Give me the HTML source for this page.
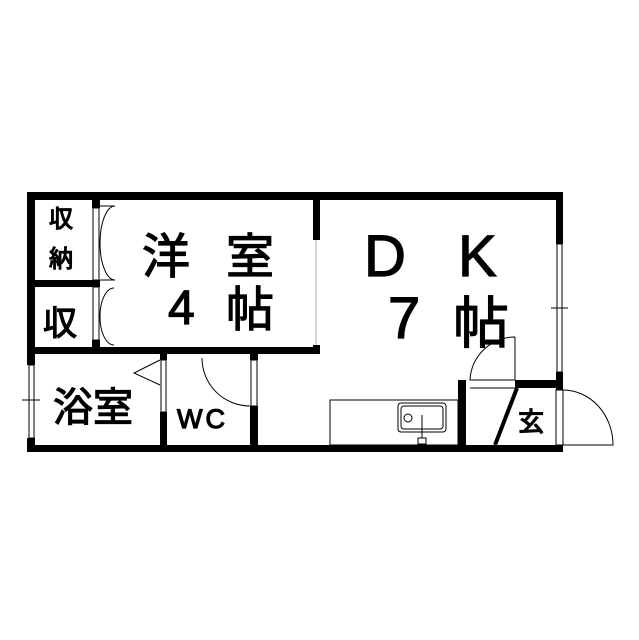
<!DOCTYPE html>
<html><head><meta charset="utf-8"><style>
html,body{margin:0;padding:0;background:#fff;width:639px;height:640px;overflow:hidden}
svg{display:block}
text{font-family:"Liberation Sans","Noto Sans CJK JP",sans-serif;fill:#000;stroke:#000;stroke-width:1.2}
</style></head><body>
<svg width="639" height="640" viewBox="0 0 639 640">
<g fill="#000">
<rect x="27" y="192" width="536" height="8"/>
<rect x="27" y="192" width="8" height="173"/>
<rect x="27" y="438" width="8" height="14"/>
<rect x="27" y="445" width="536" height="7"/>
<rect x="556" y="192" width="7" height="52"/>
<rect x="556" y="372" width="7" height="18"/>
<rect x="313" y="192" width="7" height="48"/>
<rect x="313" y="345" width="7" height="9"/>
<rect x="27" y="347" width="293" height="7"/>
<rect x="27" y="280" width="73" height="7"/>
<rect x="92" y="200" width="8" height="8"/>
<rect x="92" y="280" width="8" height="7"/>
<rect x="92" y="340" width="8" height="8"/>
<rect x="160" y="354" width="7" height="6"/>
<rect x="160" y="412" width="7" height="35"/>
<rect x="250" y="354" width="8" height="6"/>
<rect x="250" y="406" width="8" height="40"/>
<rect x="458" y="380" width="8" height="66"/>
<rect x="515" y="380" width="48" height="8"/>
</g>
<g fill="none" stroke="#000" stroke-width="1">
<rect x="93" y="208" width="6" height="72"/>
<rect x="93" y="287" width="6" height="53"/>
<path d="M100 243 A 15 37 0 0 1 115 206 M100 243 A 15 37 0 0 0 115 280"/>
<path d="M100 316 A 14 28 0 0 1 114 288 M100 316 A 14 28 0 0 0 114 345"/>
<line x1="100" y1="206" x2="115" y2="206"/><line x1="100" y1="280" x2="115" y2="280"/>
<line x1="316" y1="240" x2="316" y2="345" stroke="#aaa"/>
<rect x="29" y="365" width="5" height="73"/>
<line x1="22" y1="400" x2="40" y2="400"/>
<rect x="161" y="360" width="5" height="52"/>
<path d="M160 360 L134 373 L160 385"/>
<rect x="251" y="360" width="6" height="46"/>
<path d="M202 358 A 48 48 0 0 0 250 406"/>
<rect x="557" y="244" width="5" height="128"/>
<line x1="551" y1="308" x2="568" y2="308"/>
<path d="M515 337 L515 380 L470 380 A 45 45 0 0 1 515 337"/>
<line x1="470" y1="388" x2="515" y2="388"/>
<rect x="556" y="390" width="7" height="55"/>
<path d="M563 390 A 50 55 0 0 1 613 445 L563 445"/>
<line x1="517" y1="388" x2="495" y2="445" stroke-width="4"/>
<rect x="330" y="400" width="128" height="45"/>
<rect x="398" y="403" width="48" height="29" rx="3"/>
<rect x="401" y="406" width="42" height="23" rx="3"/>
<circle cx="408" cy="418" r="4"/>
<line x1="422" y1="415" x2="422" y2="438"/>
<rect x="418" y="438" width="8" height="6"/>
</g>
<text x="49" y="227" font-size="24">収</text>
<text x="49" y="267" font-size="24">納</text>
<text x="43" y="335" font-size="34">収</text>
<text x="142" y="273" font-size="48">洋</text>
<text x="226" y="273" font-size="48">室</text>
<text x="168" y="324" font-size="48">4</text>
<text x="226" y="326" font-size="48">帖</text>
<text x="364" y="276" font-size="58">D</text>
<text x="458" y="276" font-size="58">K</text>
<text x="388" y="338" font-size="58">7</text>
<text x="453" y="343" font-size="56">帖</text>
<text x="53" y="421" font-size="40">浴室</text>
<text x="177" y="428" font-size="27" letter-spacing="3" stroke-width="0.5">WC</text>
<text x="518" y="431" font-size="26">玄</text>
</svg>
</body></html>
